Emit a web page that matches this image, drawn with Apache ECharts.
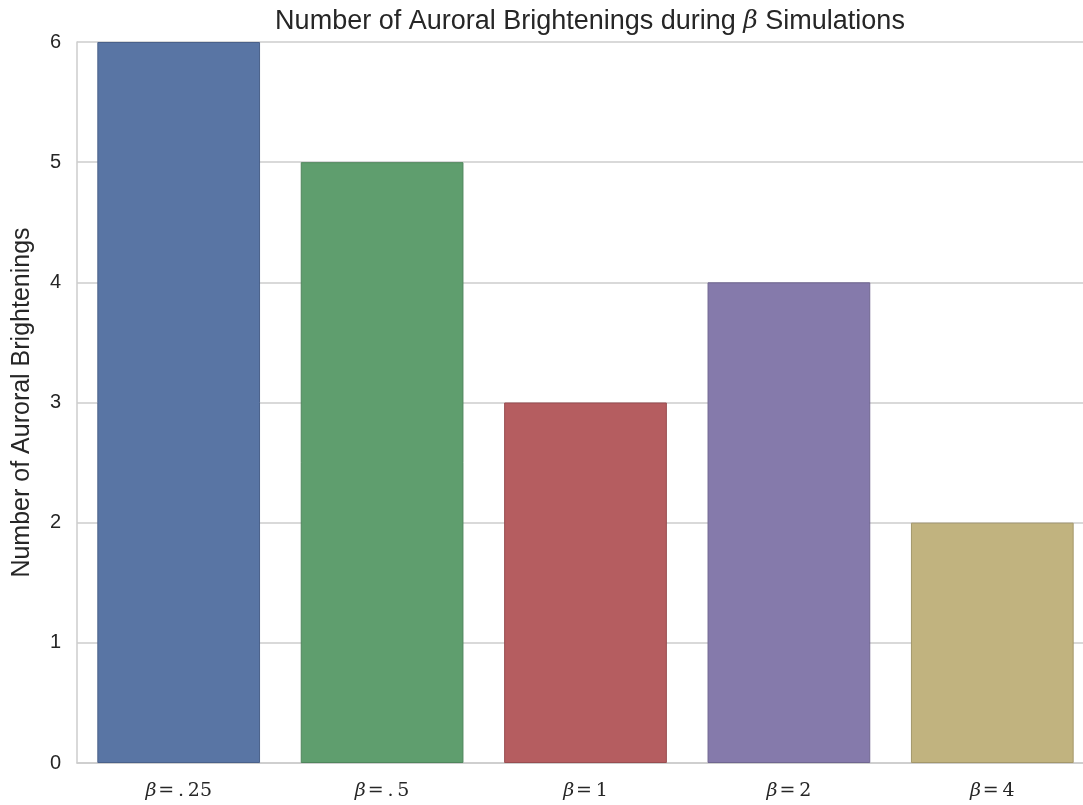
<!DOCTYPE html>
<html><head><meta charset="utf-8">
<script src="https://cdn.jsdelivr.net/npm/echarts@6/dist/echarts.min.js"></script>
<style>html,body{margin:0;padding:0;background:#fff;overflow:hidden}#c{width:1083px;height:805px}</style>
</head><body><div id="c"></div>
<script>
const categories = ['.25', '.5', '1', '2', '4'];
const values = [6, 5, 3, 4, 2];
const colors = ['#5975a4', '#5f9e6e', '#b55d60', '#857aab', '#c1b37f'];
const borders = ['#4a618a', '#4f855c', '#984d50', '#6f6690', '#a3976a'];
const yTicks = [0, 1, 2, 3, 4, 5, 6];

const chart = echarts.init(document.getElementById('c'), null, {renderer: 'canvas'});
chart.setOption({
  animation: false,
  backgroundColor: '#fff',
  title: {
    text: '{t|Number of Auroral Brightenings during }{b|β}{t| Simulations}',
    left: 585, top: 3, textAlign: 'center',
    textStyle: {
      fontWeight: 'normal',
      rich: {
        t: {fontFamily: 'Liberation Sans', fontSize: 27, fontWeight: 'normal', color: '#262626'},
        b: {fontFamily: 'DejaVu Serif', fontStyle: 'italic', fontWeight: 'normal', fontSize: 25, color: '#262626'}
      }
    }
  },
  grid: {left: 77, width: 1017, top: 42, height: 721, containLabel: false, outerBoundsMode: 'none'},
  xAxis: {
    type: 'category',
    data: categories,
    axisLine: {show: true, lineStyle: {color: '#cccccc', width: 1.5}},
    axisTick: {show: false},
    splitLine: {show: false},
    axisLabel: {
      margin: 19,
      formatter: v => '{b|β}{n|\u200a=\u2009' + (v.startsWith('.') ? '.\u2009' + v.slice(1) : v) + '}',
      rich: {
        b: {fontFamily: 'DejaVu Serif', fontStyle: 'italic', fontSize: 19, color: '#262626'},
        n: {fontFamily: 'DejaVu Serif', fontSize: 19, color: '#262626'}
      }
    }
  },
  yAxis: {
    type: 'value',
    min: 0, max: 6, interval: 1,
    name: 'Number of Auroral Brightenings',
    nameLocation: 'middle',
    nameGap: 42,
    nameTextStyle: {fontFamily: 'Liberation Sans', fontSize: 25, color: '#262626'},
    axisLine: {show: true, lineStyle: {color: '#cccccc', width: 1.5}},
    axisTick: {show: false},
    axisLabel: {margin: 16, fontFamily: 'Liberation Sans', fontSize: 20, color: '#262626',
      formatter: v => yTicks.includes(v) ? String(v) : ''},
    splitLine: {show: true, lineStyle: {color: '#cccccc', width: 1.5}}
  },
  series: [{
    type: 'bar',
    data: values.map((v, i) => ({value: v, itemStyle: {color: colors[i], borderColor: borders[i], borderWidth: 1}})),
    barWidth: '80%'
  }]
});
</script></body></html>
